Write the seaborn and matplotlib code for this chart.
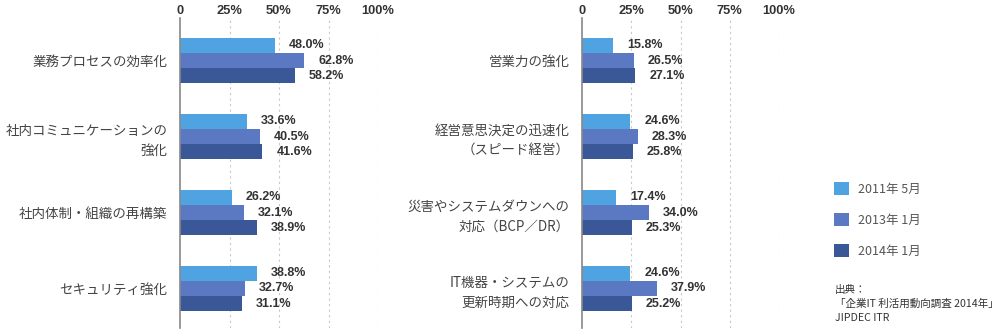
import matplotlib
matplotlib.use("Agg")
import matplotlib.pyplot as plt
import seaborn as sns
import pandas as pd

sns.set_theme(style="white")
plt.rcParams['font.family'] = ['Noto Sans CJK JP', 'DejaVu Sans']

# ---- data ----
series = ["2011年 5月", "2013年 1月", "2014年 1月"]
colors = ["#4fa3e0", "#5b78c2", "#3a5797"]

left_categories = ["業務プロセスの効率化", "社内コミュニケーションの\n強化",
                   "社内体制・組織の再構築", "セキュリティ強化"]
left_2011 = [48.0, 33.6, 26.2, 38.8]
left_2013 = [62.8, 40.5, 32.1, 32.7]
left_2014 = [58.2, 41.6, 38.9, 31.1]

right_categories = ["営業力の強化", "経営意思決定の迅速化\n（スピード経営）",
                    "災害やシステムダウンへの\n対応（BCP／DR）", "IT機器・システムの\n更新時期への対応"]
right_2011 = [15.8, 24.6, 17.4, 24.6]
right_2013 = [26.5, 28.3, 34.0, 37.9]
right_2014 = [27.1, 25.8, 25.3, 25.2]

ticks = [0, 25, 50, 75, 100]
tick_labels = ["0", "25%", "50%", "75%", "100%"]

source_text = "出典：\n「企業IT 利活用動向調査 2014年」\nJIPDEC ITR"


def long_df(cats, a, b, c):
    rows = []
    for s, vals in zip(series, [a, b, c]):
        for cat, v in zip(cats, vals):
            rows.append({"cat": cat, "series": s, "value": v})
    return pd.DataFrame(rows)


W, H = 1001, 330
fig = plt.figure(figsize=(W / 100, H / 100), dpi=100)
ax_l = fig.add_axes([180 / W, 1 - 328 / H, 198 / W, 310 / H])
ax_r = fig.add_axes([582 / W, 1 - 328 / H, 197 / W, 310 / H])

num_font = dict(family=['Liberation Sans', 'DejaVu Sans'], fontweight='bold')

for ax, cats, vals in [(ax_l, left_categories, (left_2011, left_2013, left_2014)),
                       (ax_r, right_categories, (right_2011, right_2013, right_2014))]:
    df = long_df(cats, *vals)
    sns.barplot(data=df, y="cat", x="value", hue="series", orient="h",
                palette=colors, width=0.6, dodge=True, saturation=1,
                linewidth=0, ax=ax, legend=(ax is ax_l), errorbar=None)
    for cont in ax.containers:
        labs = [f"{bar.get_width():.1f}%" for bar in cont]
        ax.bar_label(cont, labels=labs, padding=10, fontsize=9, color="#333333",
                     **num_font)
    ax.set_xlim(0, 100)
    ax.set_ylim(3.52, -0.56)
    ax.set_xticks(ticks)
    ax.set_xticklabels(tick_labels, fontsize=9.3, color="#333333", **num_font)
    ax.xaxis.tick_top()
    ax.tick_params(axis='x', length=0, pad=1)
    ax.tick_params(axis='y', length=0, pad=9, labelsize=9.7, labelcolor="#444444")
    for lab in ax.get_yticklabels():
        lab.set_multialignment('right')
        lab.set_linespacing(1.55)
    ax.set_xlabel("")
    ax.set_ylabel("")
    for sp in ["top", "right", "bottom"]:
        ax.spines[sp].set_visible(False)
    ax.spines["left"].set_color("#888888")
    ax.spines["left"].set_linewidth(1.2)
    ax.spines["left"].set_zorder(5)
    for t in ticks[1:]:
        ax.axvline(t, color="#c8c8c8", linestyle=(0, (2, 3)), linewidth=0.8, zorder=0)
    ax.set_facecolor("none")

handles, labels = ax_l.get_legend_handles_labels()
ax_l.get_legend().remove()
fig.legend(handles, labels, loc="upper left",
           bbox_to_anchor=(834 / W, 1 - 182 / H), bbox_transform=fig.transFigure,
           frameon=False, fontsize=9, handlelength=1.2, handleheight=1.2,
           handletextpad=0.7, labelspacing=1.4, borderpad=0, borderaxespad=0,
           labelcolor="#555555")

fig.text(835 / W, 1 - 285 / H, source_text, ha="left", va="top", fontsize=7.6,
         color="#333333", linespacing=1.45)

fig.savefig("out.png", dpi=100)
